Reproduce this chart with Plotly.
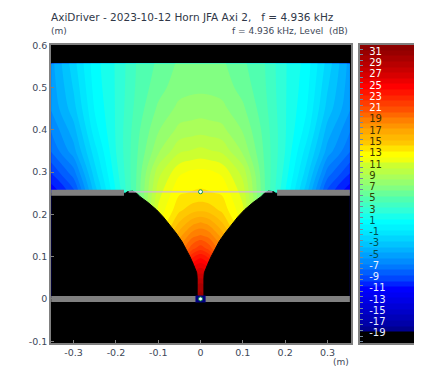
import plotly.graph_objects as go

W, H = 425, 371
# field (dB), half-plane columns |x|, mirrored about x=0
x_half = [0, 0.02, 0.05, 0.1, 0.15, 0.2, 0.25, 0.3, 0.353]
y_rows = [0, 0.03, 0.06, 0.09, 0.12, 0.15, 0.18, 0.21, 0.25, 0.3, 0.35, 0.4, 0.45, 0.5, 0.557]
level_rows = [
    [31, 30, 24, 12, 3, 0, -3, -8, -12],
    [30, 29, 23, 12, 3, 0, -3, -8, -12],
    [27.5, 26.5, 22, 12, 3, 0, -3, -8, -12],
    [25, 24, 20.5, 12, 3, 0, -3, -8, -12],
    [22, 21, 18.5, 12, 3, 0, -3, -8, -12],
    [19.5, 19, 17, 12.5, 5, 1, -3.5, -8.5, -12],
    [17.5, 17, 15.5, 12, 5, 1, -3.5, -8.5, -12],
    [15.2, 15, 14.2, 11.6, 5.5, 1.2, -3.5, -9, -12],
    [13.6, 13.5, 13.3, 11, 5.6, 1.4, -3.2, -9, -11.5],
    [12.7, 12.6, 12.2, 10, 5.5, 2, -2, -7, -9.5],
    [10.7, 10.5, 10.2, 8.2, 5.3, 2.4, -1, -5, -7.5],
    [9, 8.9, 8.7, 7.3, 5.1, 2.5, 0, -4, -6.5],
    [7.9, 7.8, 7.7, 6.6, 4.8, 2.5, 0.5, -3, -5.5],
    [7.2, 7.2, 7, 6, 4.6, 2.5, 0.8, -2.5, -5.2],
    [6.8, 6.8, 6.6, 5.6, 4.5, 2.5, 1, -2, -5],
]
# horn wall outline (left side; mirrored)
wall_x = [-0.353, -0.178, -0.172, -0.16, -0.151, -0.143, -0.124, -0.104, -0.088, -0.072, -0.058, -0.044, -0.034,
          -0.025, -0.017, -0.009, -0.008, -0.008, -0.353]
wall_y = [0.25, 0.25, 0.254, 0.255, 0.25, 0.242, 0.228, 0.211, 0.194, 0.175, 0.156, 0.136, 0.118,
          0.1, 0.082, 0.062, 0.05, 0, 0]
bar_left_x = [-0.353, -0.181]
bar_right_x = [0.181, 0.353]
bar_y = [0.251, 0.251]
floor_x = [-0.353, 0.353]
floor_y = [0, 0]
mouth_x = [-0.17, 0.17]
mouth_y = [0.2535, 0.2535]

x_ticks = [-0.3, -0.2, -0.1, 0, 0.1, 0.2, 0.3]
x_tick_text = ["-0.3", "-0.2", "-0.1", "0", "0.1", "0.2", "0.3"]
y_ticks = [-0.1, 0, 0.1, 0.2, 0.3, 0.4, 0.5, 0.6]
y_tick_text = ["-0.1", "0", "0.1", "0.2", "0.3", "0.4", "0.5", "0.6"]

# colour bar
cb_labels = [31, 29, 27, 25, 23, 21, 19, 17, 15, 13, 11, 9, 7, 5, 3, 1, -1, -3, -5, -7, -9, -11, -13, -15, -17, -19]
cb_label_colors = (["#ffffff"] * 6 + ["#403000"] * 4 + ["#304000"] * 5 + ["#005050"] * 4 +
                   ["#e8f0ff"] * 7)
cb_edges = [-20.6, -18.6, -17.6, -16.6, -15.6, -14.6, -13.6, -12.6, -11.6, -10.6, -9.6, -8.6, -7.6,
            -6.6, -5.6, -4.6, -3.6, -2.6, -1.6, -0.6, 0.4, 1.4, 2.4, 3.4, 4.4, 5.4, 6.4, 7.4, 8.4,
            9.4, 10.4, 11.4, 12.4, 13.4, 14.4, 15.4, 16.4, 17.4, 18.4, 19.4, 20.4, 21.4, 22.4, 23.4,
            24.4, 25.4, 26.4, 27.4, 28.4, 29.4, 30.4, 31.4, 32.4]
cb_values = [-20, -18, -17, -16, -15, -14, -13, -12, -11, -10, -9, -8, -7, -6, -5, -4, -3, -2, -1, 0,
             1, 2, 3, 4, 5, 6, 7, 8, 9, 10, 11, 12, 13, 14, 15, 16, 17, 18, 19, 20, 21, 22, 23, 24,
             25, 26, 27, 28, 29, 30, 31, 32]

ZMIN, ZMAX = -21, 33
stops = [(-21, "#000000"), (-18.7, "#000000"), (-18.6, "#000080"), (-17, "#0000a8"), (-15, "#0000c8"),
         (-13, "#0000e6"), (-11, "#0000ff"), (-9, "#0046ff"), (-7, "#0078ff"), (-5, "#00a0ff"),
         (-3, "#00c4ff"), (-1, "#00e6ff"), (1, "#00ffff"), (3, "#30ffd8"), (5, "#50ffb0"),
         (7, "#82ff82"), (9, "#aaff5a"), (11, "#ccff30"), (12, "#f0ff10"), (13, "#ffff00"), (14, "#ffe400"),
         (15, "#ffc800"), (17, "#ffa800"), (19, "#ff8000"), (21, "#ff5000"), (23, "#ff2800"), (25, "#ff0000"),
         (27, "#d80000"), (29, "#b80000"), (31, "#980000"), (33, "#800000")]
colorscale = [[(v - ZMIN) / (ZMAX - ZMIN), c] for v, c in stops]

xs = [-v for v in reversed(x_half[1:])] + x_half
z = [[*reversed(r[1:]), *r] for r in level_rows]

fig = go.Figure()
fig.add_trace(go.Contour(
    x=xs, y=y_rows, z=z, zmin=ZMIN, zmax=ZMAX, colorscale=colorscale, showscale=False,
    autocontour=False, contours=dict(start=-20.6, end=32.4, size=1, coloring="fill", showlines=False),
    line=dict(width=0), hoverinfo="skip"))

# black horn body, both sides
fig.add_trace(go.Scatter(x=wall_x, y=wall_y, mode="lines", fill="toself", fillcolor="#000000",
                         line=dict(color="#000000", width=1), hoverinfo="skip"))
fig.add_trace(go.Scatter(x=[-v for v in wall_x], y=wall_y, mode="lines", fill="toself",
                         fillcolor="#000000", line=dict(color="#000000", width=1), hoverinfo="skip"))
# thin mouth line
fig.add_trace(go.Scatter(x=mouth_x, y=mouth_y, mode="lines", line=dict(color="#d0b8d8", width=1.3)))
# grey baffles and floor
for bx, by in ((bar_left_x, bar_y), (bar_right_x, bar_y), (floor_x, floor_y)):
    fig.add_trace(go.Scatter(x=bx, y=by, mode="lines", line=dict(color="#808080", width=6),
                             hoverinfo="skip"))
fig.add_trace(go.Scatter(x=[-0.356, 0.356, -0.356, 0.356], y=[0.251, 0.251, 0, 0], mode="markers",
                         marker=dict(color="#808080", size=5, symbol="circle"), cliponaxis=False))
# driver blob and markers
fig.add_trace(go.Scatter(x=[-0.012, 0.012], y=[0, 0], mode="lines",
                         line=dict(color="#000080", width=7), hoverinfo="skip"))
fig.add_trace(go.Scatter(x=[0, 0], y=[0.2535, 0], mode="markers",
                         marker=dict(color="#ffffff", size=4, line=dict(color="#109050", width=1))))

# colour bar
fig.add_trace(go.Heatmap(x=[0, 1], y=cb_edges, z=[[v] for v in cb_values], zmin=ZMIN, zmax=ZMAX,
                         colorscale=colorscale, showscale=False, xaxis="x2", yaxis="y2",
                         hoverinfo="skip"))
fig.add_trace(go.Scatter(x=[0.17] * len(cb_labels), y=cb_labels, text=[str(v) for v in cb_labels],
                         mode="text", textposition="middle right", xaxis="x2", yaxis="y2",
                         textfont=dict(family="DejaVu Sans", size=10, color=cb_label_colors)))

TXT = "#404858"
L, R, T, B = 51, 351, 44.5, 343
CL, CR = 360, 414
ax = dict(showgrid=False, zeroline=False, showline=True, linecolor="#808080", linewidth=1.5,
          mirror=True, ticks="inside", ticklen=3, tickcolor="#808080", tickwidth=1,
          tickfont=dict(family="DejaVu Sans", size=9.5, color=TXT))
fig.update_layout(
    width=W, height=H, margin=dict(l=0, r=0, t=0, b=0, autoexpand=False), showlegend=False,
    paper_bgcolor="#ffffff", plot_bgcolor="#000000",
    font=dict(family="DejaVu Sans", color=TXT),
    xaxis=dict(domain=[L / W, R / W], range=[-0.3535, 0.3557], tickvals=x_ticks, ticktext=x_tick_text,
               anchor="y", **ax),
    yaxis=dict(domain=[1 - B / H, 1 - T / H], range=[-0.1043, 0.602], tickvals=y_ticks,
               ticktext=y_tick_text, anchor="x", **ax),
    xaxis2=dict(domain=[CL / W, CR / W], range=[0, 1], showticklabels=False, ticks="", showgrid=False,
                zeroline=False, showline=True, linecolor="#808080", linewidth=1.5, mirror=True,
                anchor="y2"),
    yaxis2=dict(domain=[1 - B / H, 1 - T / H], range=[-20.6, 32.4], dtick=1, tick0=0.6,
                ticks="inside", ticklen=3, tickcolor="#7088a0", tickwidth=1, showticklabels=False,
                showgrid=False, zeroline=False, showline=True, linecolor="#808080", linewidth=1.5,
                anchor="x2"),
    annotations=[
        dict(text="AxiDriver - 2023-10-12 Horn JFA Axi 2,   f = 4.936 kHz", x=49 / W, y=1 - 17 / H,
             xref="paper", yref="paper", xanchor="left", yanchor="middle", showarrow=False,
             font=dict(size=10.5, color="#303848")),
        dict(text="(m)", x=49 / W, y=1 - 31 / H, xref="paper", yref="paper", xanchor="left",
             yanchor="middle", showarrow=False, font=dict(size=9, color=TXT)),
        dict(text="f = 4.936 kHz, Level  (dB)", x=350 / W, y=1 - 31 / H, xref="paper", yref="paper",
             xanchor="right", yanchor="middle", showarrow=False, font=dict(size=9, color=TXT)),
        dict(text="(m)", x=351 / W, y=1 - 362 / H, xref="paper", yref="paper", xanchor="right",
             yanchor="middle", showarrow=False, font=dict(size=9, color=TXT)),
    ],
)
fig.write_html("out.html", config=dict(displayModeBar=False),
               post_script="document.body.style.margin='0';document.body.style.overflow='hidden';")
